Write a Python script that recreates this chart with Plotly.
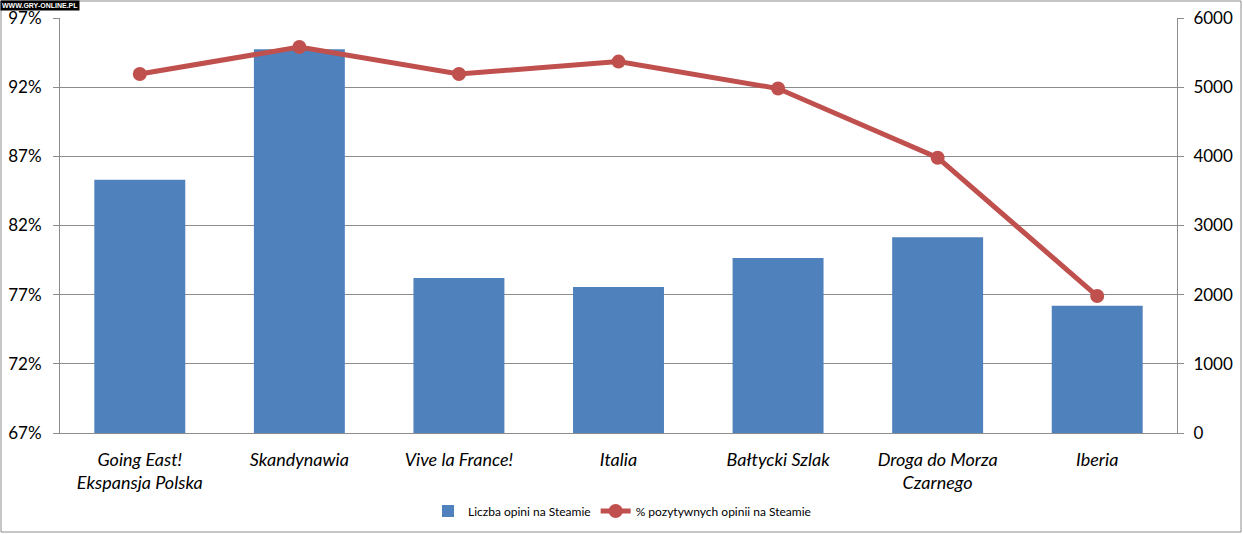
import plotly.graph_objects as go

categories = ["Going East!<br>Ekspansja Polska", "Skandynawia", "Vive la France!", "Italia",
              "Bałtycki Szlak", "Droga do Morza<br>Czarnego", "Iberia"]
review_counts = [3660, 5550, 2240, 2110, 2530, 2830, 1840]
positive_pct = [92.95, 94.9, 92.95, 93.85, 91.9, 86.9, 76.9]
left_ticks = [67, 72, 77, 82, 87, 92, 97]
right_ticks = [0, 1000, 2000, 3000, 4000, 5000, 6000]

BLUE = "#4F81BD"
RED = "#C0504D"
GRID = "#8C8C8C"
FONT = "Lato, Calibri, sans-serif"

W, H = 1243, 534
ML, MR, MT, MB = 60, 66, 18, 101
PW, PH = W - ML - MR, H - MT - MB

fig = go.Figure()
fig.add_trace(go.Bar(x=categories, y=review_counts, name="Liczba opini na Steamie",
                     marker=dict(color=BLUE, line=dict(width=0)), yaxis="y"))
fig.add_trace(go.Scatter(x=categories, y=positive_pct, name="% pozytywnych opinii na Steamie",
                         mode="lines+markers", line=dict(color=RED, width=5),
                         marker=dict(color=RED, size=14), yaxis="y2"))

def px_x(x):
    return (x - ML) / PW

def px_y(y):
    return (H - MB - y) / PH

fig.update_layout(
    width=W, height=H,
    margin=dict(l=ML, r=MR, t=MT, b=MB, autoexpand=False),
    paper_bgcolor="white", plot_bgcolor="white",
    bargap=0.43,
    font=dict(family=FONT, color="#000000"),
    xaxis=dict(showgrid=False, showline=True, linecolor=GRID, linewidth=1,
               tickfont=dict(size=18, family=FONT, style="italic"),
               ticks="", automargin=False, ticklabelstandoff=10),
    yaxis=dict(side="right", range=[0, 6000], tickvals=right_ticks,
               showgrid=True, gridcolor=GRID, gridwidth=1,
               showline=True, linecolor=GRID, linewidth=1,
               ticks="outside", ticklen=6, tickcolor=GRID,
               tickfont=dict(size=17, family=FONT), zeroline=False,
               ticklabelstandoff=6, automargin=False),
    yaxis2=dict(side="left", overlaying="y", range=[67, 97], tickvals=left_ticks,
                ticktext=[f"{v}%" for v in left_ticks],
                showgrid=False, showline=True, linecolor=GRID, linewidth=1,
                ticks="outside", ticklen=6, tickcolor=GRID,
                tickfont=dict(size=17, family=FONT), zeroline=False,
                ticklabelstandoff=8, automargin=False),
    legend=dict(orientation="h", x=px_x(622), xanchor="center", y=px_y(511), yanchor="middle",
                font=dict(size=12, family=FONT), bgcolor="rgba(0,0,0,0)",
                itemwidth=30, traceorder="normal"),
    showlegend=True,
)

fig.add_shape(type="rect", xref="paper", yref="paper",
              x0=px_x(1), x1=px_x(1241), y0=px_y(532), y1=px_y(1),
              line=dict(color="#8C8C8C", width=1), layer="below")

fig.add_annotation(xref="paper", yref="paper", x=px_x(0), y=px_y(0),
                   xanchor="left", yanchor="top", showarrow=False,
                   text="<b>WWW.GRY-ONLINE.PL</b>",
                   font=dict(size=7, color="white", family="Liberation Sans"),
                   bgcolor="black", borderpad=1)

fig.write_html("out.html", config={"displayModeBar": False},
               post_script="document.body.style.margin='0';document.body.style.overflow='hidden';")
